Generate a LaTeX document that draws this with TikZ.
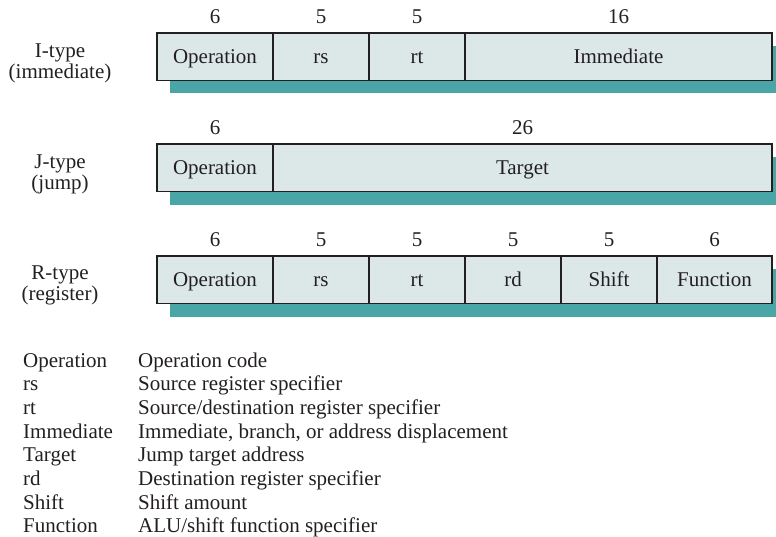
\documentclass[tikz,border=0pt]{standalone}
\usepackage{fontspec}
\setmainfont{Liberation Serif}
\usetikzlibrary{positioning}
\definecolor{cellfill}{HTML}{DCE8E8}
\definecolor{shadowteal}{HTML}{4AA6A6}
\definecolor{inkgray}{HTML}{231F20}

\begin{document}
\begin{tikzpicture}[x=1pt, y=-1pt, font=\fontsize{21}{21}\selectfont, text=inkgray,
	field/.style={draw=inkgray, line width=1.2pt, fill=cellfill, minimum height=47.5pt, text height=14pt, text depth=0pt, inner sep=0pt, outer sep=0pt, anchor=north west},
	bits/.style={inner sep=0pt, above=9pt of #1},
	rowlabel/.style={align=center, inner sep=0pt},
	legend/.style={anchor=base west, inner sep=0pt}]
	\useasboundingbox (0,0) rectangle (776,537);
	
	% Shadows behind the formats
	\fill[shadowteal] (170,46) rectangle (776,93); % I-type
	\fill[shadowteal] (170,157) rectangle (776,205); % J-type
	\fill[shadowteal] (170,269) rectangle (776,317); % R-type
	
	% I-type
	\node[field, minimum width=116pt] (iop) at (157,33) {Operation};
	\node[field, minimum width=96pt, right=0pt of iop] (irs) {rs};
	\node[field, minimum width=96pt, right=0pt of irs] (irt) {rt};
	\node[field, minimum width=307pt, right=0pt of irt] (iimm) {Immediate};
	\node[bits=iop] {6};
	\node[bits=irs] {5};
	\node[bits=irt] {5};
	\node[bits=iimm] {16};
	\node[rowlabel] (ilabel) at (60,63) {I-type\\(immediate)};
	
	% J-type
	\node[field, minimum width=116pt] (jop) at (157,144) {Operation};
	\node[field, minimum width=499pt, right=0pt of jop] (jtarget) {Target};
	\node[bits=jop] {6};
	\node[bits=jtarget] {26};
	\node[rowlabel] (jlabel) at (60,174) {J-type\\(jump)};
	
	% R-type
	\node[field, minimum width=116pt] (rop) at (157,256) {Operation};
	\node[field, minimum width=96pt, right=0pt of rop] (rrs) {rs};
	\node[field, minimum width=96pt, right=0pt of rrs] (rrt) {rt};
	\node[field, minimum width=96pt, right=0pt of rrt] (rrd) {rd};
	\node[field, minimum width=96pt, right=0pt of rrd] (rshift) {Shift};
	\node[field, minimum width=115pt, right=0pt of rshift] (rfunc) {Function};
	\node[bits=rop] {6};
	\node[bits=rrs] {5};
	\node[bits=rrt] {5};
	\node[bits=rrd] {5};
	\node[bits=rshift] {5};
	\node[bits=rfunc] {6};
	\node[rowlabel] (rlabel) at (60,285) {R-type\\(register)};
	
	% Legend
	\node[legend] (kop) at (23,367) {Operation};
	\node[legend] (krs) at (23,390.7) {rs};
	\node[legend] (krt) at (23,414.4) {rt};
	\node[legend] (kimm) at (23,438.1) {Immediate};
	\node[legend] (ktarget) at (23,461.8) {Target};
	\node[legend] (krd) at (23,485.5) {rd};
	\node[legend] (kshift) at (23,509.2) {Shift};
	\node[legend] (kfunc) at (23,532.9) {Function};
	
	\node[legend] (dop) at (138,367) {Operation code};
	\node[legend] (drs) at (138,390.7) {Source register specifier};
	\node[legend] (drt) at (138,414.4) {Source/destination register specifier};
	\node[legend] (dimm) at (138,438.1) {Immediate, branch, or address displacement};
	\node[legend] (dtarget) at (138,461.8) {Jump target address};
	\node[legend] (drd) at (138,485.5) {Destination register specifier};
	\node[legend] (dshift) at (138,509.2) {Shift amount};
	\node[legend] (dfunc) at (138,532.9) {ALU/shift function specifier};
\end{tikzpicture}
\end{document}
